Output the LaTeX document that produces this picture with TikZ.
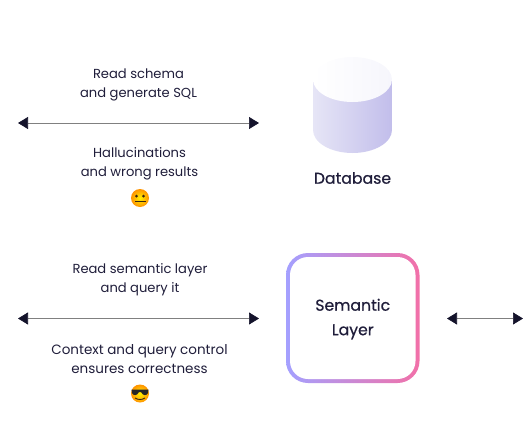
\documentclass[tikz,border=0pt]{standalone}
\usepackage{fontspec}
\setmainfont{Poppins}
\usetikzlibrary{arrows.meta}
\definecolor{ink}{HTML}{1F1D3A}
\definecolor{tipc}{HTML}{14132B}
\tikzset{
 x=1pt,y=-1pt,
 lbl/.style={align=center,text=ink,font=\fontsize{13.1}{19}\selectfont,inner sep=0pt},
 head/.style={align=center,text=ink,font=\fontsize{15.7}{24.5}\selectfont\addfontfeature{FakeBold=0.6},inner sep=0pt},
 link/.style={draw=black!50,line width=.7pt,{Triangle[length=10pt,width=12pt,color=tipc]}-{Triangle[length=10pt,width=12pt,color=tipc]}},
 emoji/.style={circle,inner sep=0pt,minimum size=18pt,shade,inner color=yellow!90!orange,outer color=orange!85!yellow},
}
\begin{document}
\begin{tikzpicture}
\useasboundingbox (0,0) rectangle (530,442);
% cylinder
\shade[left color={rgb,255:red,230;green,229;blue,246},right color={rgb,255:red,194;green,190;blue,235}]
  (313,80) -- (313,130) arc[x radius=39.5,y radius=23,start angle=180,end angle=0] -- (392,80) -- cycle;
\shade[left color=white,right color={rgb,255:red,246;green,246;blue,252}]
  (352.5,79.5) ellipse[x radius=39.5,y radius=22.5];
\node[head] (db) at (352.5,178) {Database};
% semantic layer box
\shade[left color={rgb,255:red,164;green,160;blue,255},right color={rgb,255:red,242;green,112;blue,168},rounded corners=22pt]
  (286,253) rectangle (419.5,383);
\node[fill=white,draw=none,minimum width=125.5pt,minimum height=122pt,rounded corners=18pt,inner sep=0pt] (sem) at (352.75,318) {};
\node[head] at (352.75,319) {Semantic\\Layer};
% labels
\node[lbl] (t1) at (138.5,84.5) {Read schema\\and generate SQL};
\node[lbl] (t2) at (139.5,164) {Hallucinations\\and wrong results};
\node[lbl] (t3) at (140,280) {Read semantic layer\\and query it};
\node[lbl,font=\fontsize{13.5}{19}\selectfont] (t4) at (139.5,359) {Context and query control\\ensures correctness};
% arrows
\coordinate (a1) at (18,123); \coordinate (b1) at (259,123);
\coordinate (a2) at (18,318.5); \coordinate (b2) at (259,318.5);
\coordinate (a3) at (447,318.5); \coordinate (b3) at (523,318.5);
\draw[link] (a1) -- (b1);
\draw[link] (a2) -- (b2);
\draw[link] (a3) -- (b3);
% neutral emoji
\node[emoji] (e1) at (140,198) {};
\fill[black!70!brown] (136.5,196) circle (1.5);
\fill[black!70!brown] (143.5,196) circle (1.5);
\fill[black!70!brown] (134.5,201) rectangle (145.5,202.2);
% sunglasses emoji
\node[emoji] (e2) at (140,393.5) {};
\fill[black!85] (131.5,389.5) -- (148.5,389.5) -- (148,393) .. controls (146.5,396) and (143,396) .. (141,392) -- (139,392) .. controls (137,396) and (133.5,396) .. (132,393) -- cycle;
\draw[black!70!brown,line width=.9pt] (135,398) .. controls (138,400) and (142,400) .. (145,398);
\end{tikzpicture}
\end{document}
